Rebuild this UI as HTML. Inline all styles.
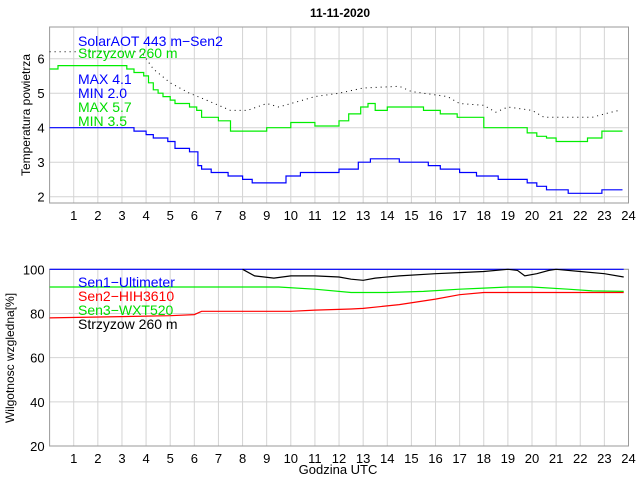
<!DOCTYPE html>
<html><head><meta charset="utf-8"><style>
body{margin:0;background:#fff}
svg{display:block;font-family:"Liberation Sans",sans-serif}
</style></head><body>
<svg id="s" width="640" height="480" xmlns="http://www.w3.org/2000/svg">
<rect width="640" height="480" fill="#fff"/>
<text x="340" y="17" font-size="12" font-weight="bold" text-anchor="middle">11-11-2020</text>
<g id="g"></g>
<text x="78" y="46" font-size="14" fill="#0000ff">SolarAOT 443 m−Sen2</text>
<text x="78" y="58" font-size="14" fill="#00dd00">Strzyzow 260 m</text>
<text x="78" y="84" font-size="14" fill="#0000ff">MAX 4.1</text>
<text x="78" y="98" font-size="14" fill="#0000ff">MIN 2.0</text>
<text x="78" y="112" font-size="14" fill="#00dd00">MAX 5.7</text>
<text x="78" y="126" font-size="14" fill="#00dd00">MIN 3.5</text>
<text x="78" y="287" font-size="14" fill="#0000ff">Sen1−Ultimeter</text>
<text x="78" y="301" font-size="14" fill="#ff0000">Sen2−HIH3610</text>
<text x="78" y="315" font-size="14" fill="#00dd00">Sen3−WXT520</text>
<text x="78" y="329" font-size="14" fill="#000">Strzyzow 260 m</text>
<text x="338" y="474" font-size="13" text-anchor="middle">Godzina UTC</text>
<text transform="translate(30,115) rotate(-90)" font-size="12" text-anchor="middle">Temperatura powietrza</text>
<text transform="translate(14,358) rotate(-90)" font-size="12" text-anchor="middle">Wilgotnosc wzgledna[%]</text>
</svg>
<script>
var g=document.getElementById('g'),NS='http://www.w3.org/2000/svg';
function el(t,a){var e=document.createElementNS(NS,t);for(var k in a)e.setAttribute(k,a[k]);g.appendChild(e);return e}
var X0=49.6,DX=24.12,R=628.5;
function hx(h){return X0+DX*h}
function ty(t){return 196.7-34.5*(t-2)}
function hy(v){return 446-(v-20)*2.209}
function axes(top,bot,yt,yf,lab){
 for(var h=1;h<24;h++)el('line',{x1:hx(h),x2:hx(h),y1:top,y2:bot,stroke:'#d4d4d4'});
 yt.forEach(function(v){var y=yf(v);el('line',{x1:X0,x2:R,y1:y,y2:y,stroke:'#d4d4d4'});
  el('text',{x:X0-5,y:y+5,'font-size':13,'text-anchor':'end'}).textContent=v;});
 el('rect',{x:X0,y:top,width:R-X0,height:bot-top,fill:'none',stroke:'#999'});
 for(var h=1;h<=24;h++)el('text',{x:hx(h),y:bot+17,'font-size':13,'text-anchor':'middle'}).textContent=h;
}
axes(27,203,[2,3,4,5,6],ty);
axes(269.3,446,[20,40,60,80,100],hy);
function step(d,yf,col){var p='',prev=null;d.forEach(function(s){var x=hx(s[0]),y=yf(s[1]);p+=(p?'L':'M')+x.toFixed(1)+','+(prev===null?y:yf(prev)).toFixed(1)+'L'+x.toFixed(1)+','+y.toFixed(1);prev=s[1]});el('path',{d:p+'L'+hx(23.75).toFixed(1)+','+yf(prev).toFixed(1),fill:'none',stroke:col,'stroke-width':1.2});}
function line(d,yf,col,dash,w){var p=d.map(function(s,i){return(i?'L':'M')+hx(s[0]).toFixed(1)+','+yf(s[1]).toFixed(1)}).join('');var a={d:p,fill:'none',stroke:col,'stroke-width':w||1.2};if(dash)a['stroke-dasharray']=dash;el('path',a);}
step([[0,5.7],[0.35,5.8],[3.2,5.7],[3.5,5.6],[3.9,5.5],[4.1,5.3],[4.3,5.1],[4.5,5.0],[4.7,4.9],[5.0,4.8],[5.2,4.7],[5.8,4.6],[6.1,4.5],[6.3,4.3],[7.0,4.2],[7.5,3.9],[9.0,4.0],[10.0,4.15],[11.0,4.05],[12.0,4.2],[12.4,4.4],[12.9,4.6],[13.2,4.7],[13.5,4.5],[14.0,4.6],[15.5,4.5],[16.2,4.4],[16.9,4.3],[18.0,4.0],[19.8,3.85],[20.2,3.75],[20.6,3.7],[21.0,3.6],[22.3,3.7],[22.9,3.9]],ty,'#00ee00');
step([[0,4.0],[3.5,3.9],[4.0,3.8],[4.3,3.7],[4.9,3.6],[5.2,3.4],[5.8,3.3],[6.15,2.9],[6.3,2.8],[6.7,2.7],[7.4,2.6],[8.0,2.5],[8.4,2.4],[9.8,2.6],[10.4,2.7],[12.0,2.8],[12.8,3.0],[13.3,3.1],[14.5,3.0],[15.7,2.9],[16.2,2.8],[17.0,2.7],[17.7,2.6],[18.6,2.5],[19.8,2.4],[20.2,2.3],[20.6,2.2],[21.5,2.1],[22.9,2.2]],ty,'#0000ff');
line([[0,6.2],[3.8,6.2],[4.3,5.7],[5,5.3],[5.8,5.0],[6.5,4.8],[7.5,4.5],[8.2,4.5],[9,4.7],[9.5,4.6],[10.5,4.8],[11,4.9],[12,5.0],[13,5.15],[14.5,5.2],[15,5.05],[16.5,4.9],[17,4.7],[18,4.65],[18.5,4.45],[19,4.6],[20,4.5],[20.5,4.3],[22.5,4.3],[23,4.4],[23.6,4.5]],ty,'#000','1 4',1);
line([[0,100],[23.8,100]],hy,'#0000ff');
line([[0,92],[9.5,92],[11,91],[12.5,89.5],[14,89.5],[15.5,90],[17,91],[18,91.5],[19,92],[20,92],[21.5,91],[22.5,90.2],[23.8,90]],hy,'#00ee00');
line([[0,78],[5,79],[6,79.5],[6.3,81],[10,81],[11,81.5],[12.5,82],[13,82.3],[14.5,84],[16,86.5],[17,88.5],[18,89.5],[23.8,89.5]],hy,'#ff0000');
line([[8,100],[8.5,97],[9.3,96],[10,97],[11,97],[12,96.5],[12.5,95.5],[13,95],[13.5,96],[14.5,97],[16,98],[17,98.5],[18,99],[19,100],[19.4,99.5],[19.7,97],[20.2,98],[20.7,99.5],[21,100],[22,99],[23,98],[23.8,96.5]],hy,'#000');
</script>
</body></html>
